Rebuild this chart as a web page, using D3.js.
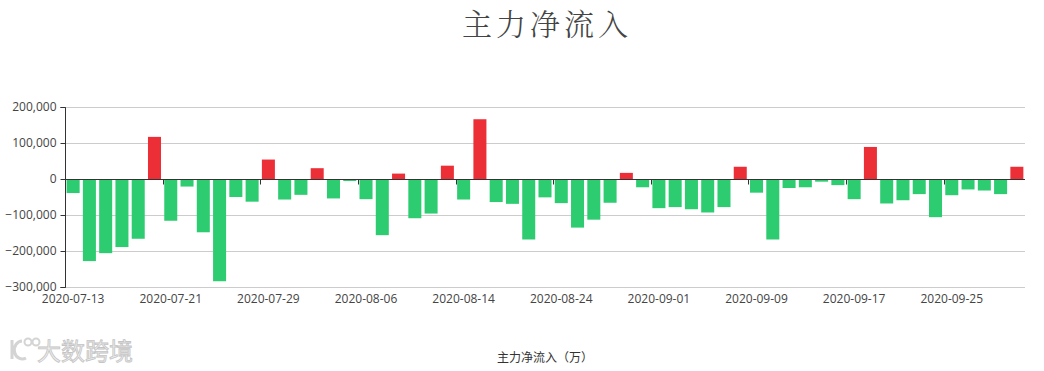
<!DOCTYPE html>
<html>
<head>
<meta charset="utf-8">
<script src="https://cdn.jsdelivr.net/npm/d3@7/dist/d3.min.js"></script>
<style>
  html, body { margin: 0; padding: 0; background: #fff; }
  svg { display: block; font-family: "Noto Sans CJK SC", "Microsoft YaHei", sans-serif; }
</style>
</head>
<body>
<svg id="chart" width="1044" height="371"></svg>
<script>
const title = "主力净流入";
const axisName = "主力净流入（万）";
const dates = [
  "2020-07-13","2020-07-14","2020-07-15","2020-07-16","2020-07-17","2020-07-20","2020-07-21","2020-07-22","2020-07-23","2020-07-24",
  "2020-07-27","2020-07-28","2020-07-29","2020-07-30","2020-07-31","2020-08-03","2020-08-04","2020-08-05","2020-08-06","2020-08-07",
  "2020-08-10","2020-08-11","2020-08-12","2020-08-13","2020-08-14","2020-08-17","2020-08-18","2020-08-19","2020-08-20","2020-08-21",
  "2020-08-24","2020-08-25","2020-08-26","2020-08-27","2020-08-28","2020-08-31","2020-09-01","2020-09-02","2020-09-03","2020-09-04",
  "2020-09-07","2020-09-08","2020-09-09","2020-09-10","2020-09-11","2020-09-14","2020-09-15","2020-09-16","2020-09-17","2020-09-18",
  "2020-09-21","2020-09-22","2020-09-23","2020-09-24","2020-09-25","2020-09-28","2020-09-29","2020-09-30","2020-10-09"
];
const values = [
  -39000,-228000,-206000,-189000,-166000,117000,-116000,-21000,-148000,-284000,
  -50000,-63000,54000,-57000,-44000,30000,-54000,-5600,-56000,-156000,
  15000,-109000,-96000,37000,-57000,166000,-64000,-69000,-168000,-51000,
  -67000,-135000,-113000,-66000,17000,-23000,-81000,-78000,-84000,-93000,
  -78000,34000,-38000,-168000,-25000,-23000,-7400,-17000,-56000,89000,
  -68000,-59000,-42000,-106000,-45000,-29000,-32000,-42000,34000
];
const yTicks = [-300000,-200000,-100000,0,100000,200000];
const xTickEvery = 6;

const svg = d3.select("#chart");
const m = {left: 65, right: 1025, top: 107, bottom: 287};

const xb = d3.scaleBand().domain(dates).range([m.left, m.right]);
const y = d3.scaleLinear().domain([-300000, 200000]).range([m.bottom, m.top]);

// title
svg.append("text").attr("x", (m.left + m.right) / 2 + 2).attr("y", 35)
  .attr("text-anchor", "middle").attr("font-size", 30).attr("font-weight", 300).attr("fill", "#444")
  .attr("letter-spacing", 4)
  .attr("font-family", "'Noto Serif CJK SC', 'Noto Sans CJK SC', serif")
  .text(title);

// grid lines
svg.append("g").selectAll("line").data(yTicks).join("line")
  .attr("x1", m.left).attr("x2", m.right)
  .attr("y1", d => Math.round(y(d)) + 0.5).attr("y2", d => Math.round(y(d)) + 0.5)
  .attr("stroke", "#ccc").attr("stroke-width", 1);

// bars
svg.append("g").selectAll("rect").data(values).join("rect")
  .attr("x", (d, i) => xb(dates[i]) + xb.bandwidth() * 0.1)
  .attr("width", xb.bandwidth() * 0.8)
  .attr("y", d => y(Math.max(0, d)))
  .attr("height", d => Math.abs(y(d) - y(0)))
  .attr("fill", d => d >= 0 ? "#ec2f37" : "#2ecc71");

// y axis
const yAxis = d3.axisLeft(y).tickValues(yTicks).tickFormat(d3.format(",")).tickSize(5).tickPadding(4);
const gy = svg.append("g").attr("transform", `translate(${m.left + 0.5},0)`).call(yAxis);
gy.select(".domain").attr("stroke", "#333").attr("d", `M-5,${m.top + 0.5}H0V${m.bottom + 0.5}H-5`);
gy.selectAll(".tick line").attr("stroke", "#333");
gy.selectAll(".tick text").attr("font-size", 12).attr("fill", "#444")
  .attr("font-family", "'Open Sans', 'Noto Sans', sans-serif");

// x axis at zero
const y0 = Math.round(y(0)) + 0.5;
svg.append("line").attr("x1", m.left).attr("x2", m.right).attr("y1", y0).attr("y2", y0)
  .attr("stroke", "#333").attr("stroke-width", 1);
const tickIdx = dates.map((d, i) => i).filter(i => i % xTickEvery === 0);
svg.append("g").selectAll("line").data(tickIdx).join("line")
  .attr("x1", i => Math.round(xb(dates[i])) + 0.5).attr("x2", i => Math.round(xb(dates[i])) + 0.5)
  .attr("y1", y0).attr("y2", y0 + 5).attr("stroke", "#333");
svg.append("g").selectAll("text").data(tickIdx).join("text")
  .attr("x", i => xb(dates[i]) + xb.bandwidth() / 2)
  .attr("y", 303).attr("text-anchor", "middle").attr("font-size", 12).attr("fill", "#444")
  .attr("font-family", "'Open Sans', 'Noto Sans', sans-serif")
  .text(i => dates[i]);

// axis name
svg.append("text").attr("x", (m.left + m.right) / 2).attr("y", 362)
  .attr("text-anchor", "middle").attr("font-size", 12).attr("fill", "#333")
  .text(axisName);

// watermark
const wm = svg.append("g");
wm.append("path").attr("d", "M12,340 L12,359 M22,341 A8,9 0 1 0 26,358")
  .attr("fill", "none").attr("stroke", "#d4d4d4").attr("stroke-width", 3);
wm.append("circle").attr("cx", 28).attr("cy", 342).attr("r", 3.5).attr("fill", "none").attr("stroke", "#d4d4d4").attr("stroke-width", 2);
wm.append("circle").attr("cx", 36).attr("cy", 342).attr("r", 3.5).attr("fill", "none").attr("stroke", "#d4d4d4").attr("stroke-width", 2);
wm.append("text").attr("x", 37).attr("y", 360).attr("font-size", 24).attr("fill", "#eee")
  .attr("stroke", "#c4c4c4").attr("stroke-width", 0.8).text("大数跨境");
</script>
</body>
</html>
